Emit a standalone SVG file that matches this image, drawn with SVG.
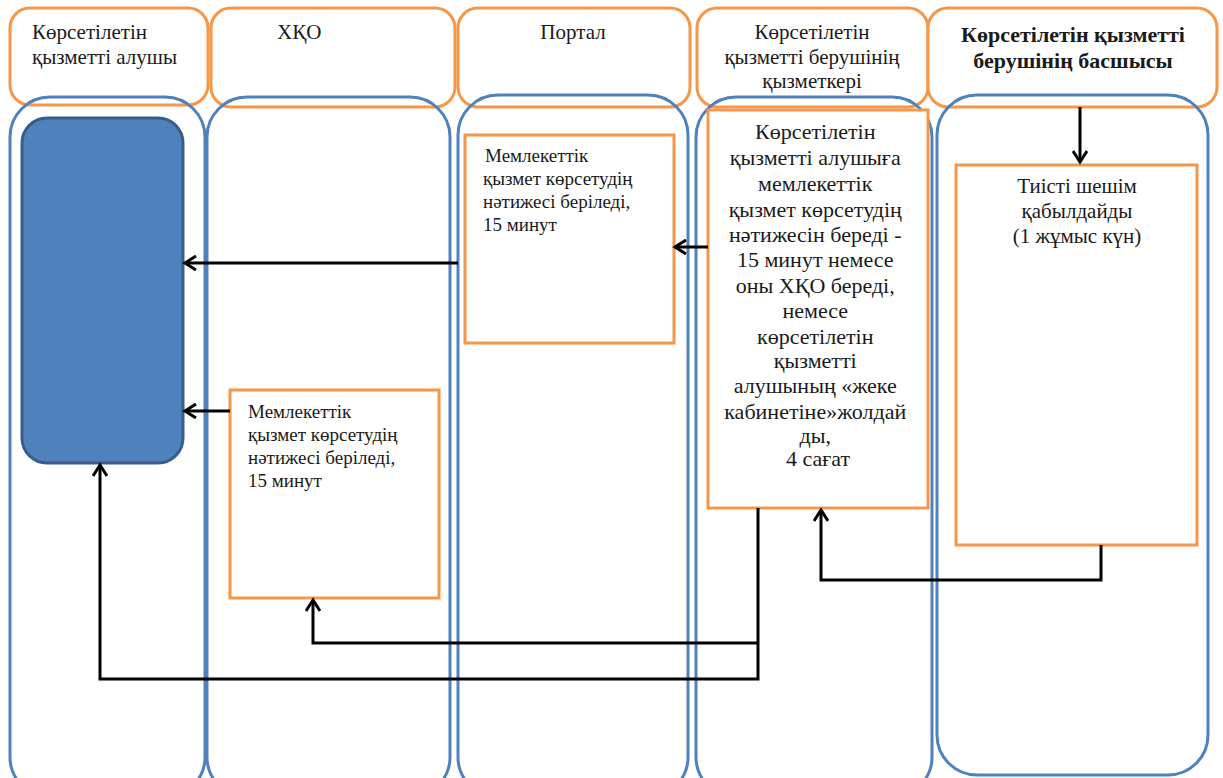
<svg xmlns="http://www.w3.org/2000/svg" width="1223" height="778" viewBox="0 0 1223 778">
<defs>
<style>
.hdr{fill:#fff;stroke:#F79646;stroke-width:3}
.lane{fill:none;stroke:#4F81BD;stroke-width:3}
.box{fill:#fff;stroke:#F79646;stroke-width:3}
.con{fill:none;stroke:#000;stroke-width:3}
</style>
<marker id="arr" markerWidth="16" markerHeight="16" refX="13" refY="8" orient="auto" markerUnits="userSpaceOnUse">
<path d="M2,1 L13,8 L2,15" fill="none" stroke="#000" stroke-width="3"/>
</marker>
</defs>
<rect width="1223" height="778" fill="#fff"/>
<g id="headers" font-family="Liberation Serif, Times New Roman, serif" font-size="21" fill="#1a1a1a">
<g id="h1"><rect class="hdr" x="10" y="8" width="198" height="97" rx="20"/>
<text x="32" y="39">Көрсетілетін</text><text x="32" y="64">қызметті алушы</text></g>
<g id="h2"><rect class="hdr" x="211" y="8" width="244" height="99" rx="20"/>
<text x="277" y="39">ХҚО</text></g>
<g id="h3"><rect class="hdr" x="458" y="8" width="232" height="99" rx="20"/>
<text text-anchor="middle" x="573" y="39">Портал</text></g>
<g id="h4"><rect class="hdr" x="697" y="8" width="231" height="99" rx="20"/>
<text text-anchor="middle" x="812" y="39">Көрсетілетін</text><text text-anchor="middle" x="812" y="64">қызметті берушінің</text><text text-anchor="middle" x="812" y="88">қызметкері</text></g>
<g id="h5"><rect class="hdr" x="928" y="8" width="289" height="99" rx="20"/>
<text text-anchor="middle" font-weight="bold" font-size="22" x="1073" y="42">Көрсетілетін қызметті</text><text text-anchor="middle" font-weight="bold" font-size="22" x="1073" y="68">берушінің басшысы</text></g>
</g>
<g id="lanes">
<rect id="lane1" class="lane" x="10" y="97" width="195" height="700" rx="40"/>
<rect id="lane2" class="lane" x="207" y="97" width="243" height="700" rx="40"/>
<rect id="lane3" class="lane" x="458" y="95" width="230" height="702" rx="40"/>
<rect id="lane4" class="lane" x="696" y="97" width="236" height="700" rx="40"/>
<rect id="lane5" class="lane" x="937" y="95" width="271" height="680" rx="40"/>
</g>
<g id="n-client"><rect x="22" y="118" width="161" height="345" rx="25" fill="#4F81BD" stroke="#385D8A" stroke-width="3"/></g>
<g id="n-portal" font-family="Liberation Serif, Times New Roman, serif" font-size="19" fill="#1a1a1a"><rect class="box" x="465" y="135" width="209" height="208"/>
<text x="485" y="162">Мемлекеттік</text>
<text x="483" y="185">қызмет көрсетудің</text>
<text x="483" y="208">нәтижесі беріледі,</text>
<text x="483" y="231">15 минут</text></g>
<g id="n-hqo" font-family="Liberation Serif, Times New Roman, serif" font-size="19" fill="#1a1a1a"><rect class="box" x="230" y="390" width="209" height="208"/>
<text x="248" y="418">Мемлекеттік</text>
<text x="248" y="441">қызмет көрсетудің</text>
<text x="248" y="464">нәтижесі беріледі,</text>
<text x="248" y="487">15 минут</text></g>
<g id="n-staff" font-family="Liberation Serif, Times New Roman, serif" font-size="22" fill="#1a1a1a"><rect class="box" x="708" y="110" width="220" height="398"/>
<text text-anchor="middle">
<tspan x="818" y="139">Көрсетілетін</tspan>
<tspan x="818" y="165">қызметті алушыға</tspan>
<tspan x="818" y="191">мемлекеттік</tspan>
<tspan x="818" y="217">қызмет көрсетудің</tspan>
<tspan x="818" y="242">нәтижесін береді -</tspan>
<tspan x="818" y="267">15 минут немесе</tspan>
<tspan x="818" y="293">оны ХҚО береді,</tspan>
<tspan x="818" y="318">немесе</tspan>
<tspan x="818" y="344">көрсетілетін</tspan>
<tspan x="818" y="368">қызметті</tspan>
<tspan x="818" y="393">алушының «жеке</tspan>
<tspan x="818" y="419">кабинетіне»жолдай</tspan>
<tspan x="818" y="443">ды,</tspan>
<tspan x="818" y="466">4 сағат</tspan>
</text></g>
<g id="n-head" font-family="Liberation Serif, Times New Roman, serif" font-size="21" fill="#1a1a1a"><rect class="box" x="956" y="165" width="241" height="380"/>
<text text-anchor="middle" x="1077" y="193">Тиісті шешім</text>
<text text-anchor="middle" x="1077" y="218">қабылдайды</text>
<text text-anchor="middle" x="1077" y="243">(1 жұмыс күн)</text></g>
<g id="connectors">
<path class="con" d="M1080,107 L1080,162" marker-end="url(#arr)"/>
<path class="con" d="M458,263 L185,263" marker-end="url(#arr)"/>
<path class="con" d="M230,411 L185,411" marker-end="url(#arr)"/>
<path class="con" d="M708,247 L675,247" marker-end="url(#arr)"/>
<path class="con" d="M758,508 L758,679 L100,679 L100,465" marker-end="url(#arr)"/>
<path class="con" d="M758,643 L313,643 L313,600" marker-end="url(#arr)"/>
<path class="con" d="M1101,545 L1101,580 L821,580 L821,510" marker-end="url(#arr)"/>
</g>
</svg>
